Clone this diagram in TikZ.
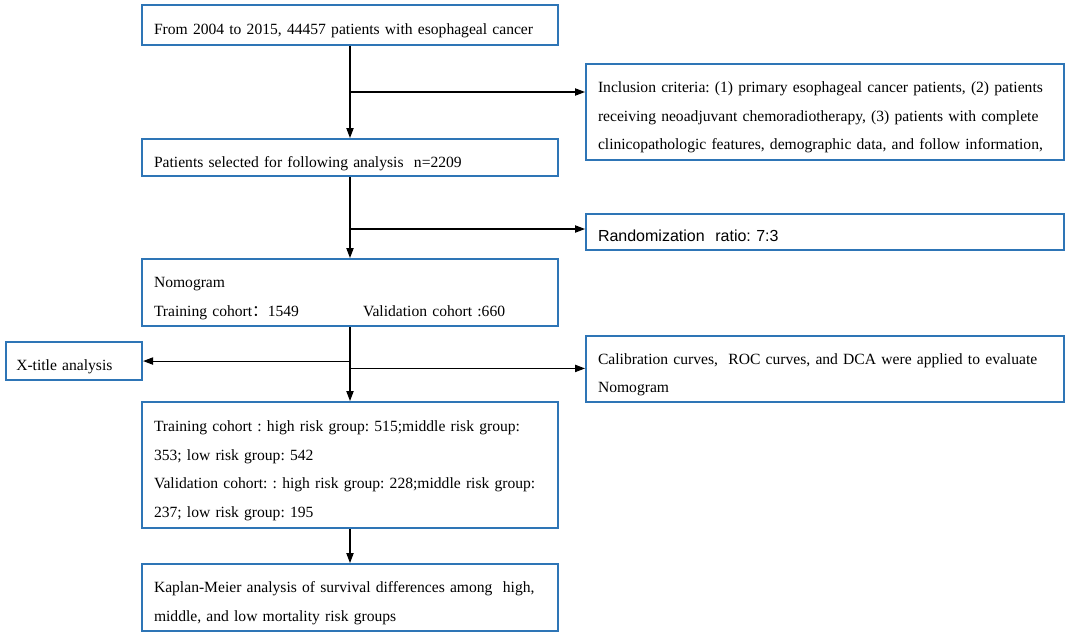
\documentclass[tikz,border=0pt]{standalone}
\usepackage{fontspec}
\setmainfont{Liberation Serif}
\newfontfamily\arialfont{Liberation Sans}
\newfontfamily\cjkfont{Noto Sans CJK SC}
\usetikzlibrary{arrows.meta,calc}
\definecolor{boxblue}{RGB}{46,117,182}
\newcommand{\topstrut}{\rule{0pt}{17pt}}
\newcommand{\botstrut}{\rule[-3pt]{0pt}{0pt}}
\frenchspacing
\begin{document}
\begin{tikzpicture}[x=0.75pt,y=-0.75pt,
  fbox/.style={draw=boxblue,line width=1.5pt,rectangle,anchor=north west,
    inner xsep=9pt,inner ysep=0pt,align=left,
    font=\fontsize{11.7pt}{21.5pt}\selectfont\frenchspacing},
  conn/.style={line width=0.8pt,-{Triangle[length=7.5pt,width=5.5pt]}}]
\useasboundingbox (0,0) rectangle (1067,635);

\node[fbox,minimum width=312pt,minimum height=30pt,text width=294pt] (start) at (141,4)
  {\topstrut From 2004 to 2015, 44457 patients with esophageal cancer\botstrut};
\node[fbox,minimum width=312pt,minimum height=28.1pt,text width=294pt] (sel) at (141,138)
  {\topstrut Patients selected for following analysis~ n=2209\botstrut};
\node[fbox,minimum width=312pt,minimum height=50.25pt,text width=294pt] (nomo) at (141,258)
  {\topstrut Nomogram\\
   \makebox[156.75pt][l]{Training cohort{\cjkfont ：}1549}Validation cohort :660\botstrut};
\node[fbox,minimum width=312pt,minimum height=94.5pt,text width=294pt] (risk) at (141,401)
  {\topstrut\mbox{Training cohort : high risk group: 515;middle risk group:}\\
   353; low risk group: 542\\
   \mbox{Validation cohort: : high risk group: 228;middle risk group:}\\
   237; low risk group: 195\botstrut};
\node[fbox,minimum width=312pt,minimum height=50.25pt,text width=294pt] (km) at (141,563)
  {\topstrut\mbox{Kaplan-Meier analysis of survival differences among~ high,}\\
   middle, and low mortality risk groups\botstrut};

\node[fbox,minimum width=358.5pt,minimum height=72pt,text width=340.5pt] (incl) at (585,63)
  {\topstrut\mbox{Inclusion criteria: (1) primary esophageal cancer patients, (2) patients}\\
   \mbox{receiving neoadjuvant chemoradiotherapy, (3) patients with complete}\\
   \mbox{clinicopathologic features, demographic data, and follow information,}\botstrut};
\node[fbox,minimum width=358.5pt,minimum height=27pt,text width=340.5pt,
  font=\fontsize{12pt}{21.5pt}\arialfont\frenchspacing] (rand) at (585,213)
  {\topstrut Randomization~ ratio: 7:3\botstrut};
\node[fbox,minimum width=358.5pt,minimum height=49.5pt,text width=340.5pt] (cal) at (585,335)
  {\topstrut\mbox{Calibration curves,~ ROC curves, and DCA were applied to evaluate}\\
   Nomogram\botstrut};
\node[fbox,minimum width=102.4pt,minimum height=28.5pt,text width=86.4pt,inner xsep=8pt] (xt) at (4.6,341)
  {\topstrut X-title analysis\botstrut};

\draw[conn] (start) -- (sel);
\coordinate (j1) at ($(start.south)!0.5!(sel.north)$);
\draw[conn] (j1) -- (j1 -| incl.west);
\draw[conn] (sel) -- (nomo);
\coordinate (j2) at ($(sel.south)!0.64!(nomo.north)$);
\draw[conn] (j2) -- (j2 -| rand.west);
\draw[conn] (nomo) -- (risk);
\coordinate (j3) at ($(nomo.south)!0.46!(risk.north)$);
\draw[conn] (j3) -- (j3 -| xt.east);
\coordinate (j4) at ($(nomo.south)!0.56!(risk.north)$);
\draw[conn] (j4) -- (j4 -| cal.west);
\draw[conn] (risk) -- (km);
\end{tikzpicture}
\end{document}
